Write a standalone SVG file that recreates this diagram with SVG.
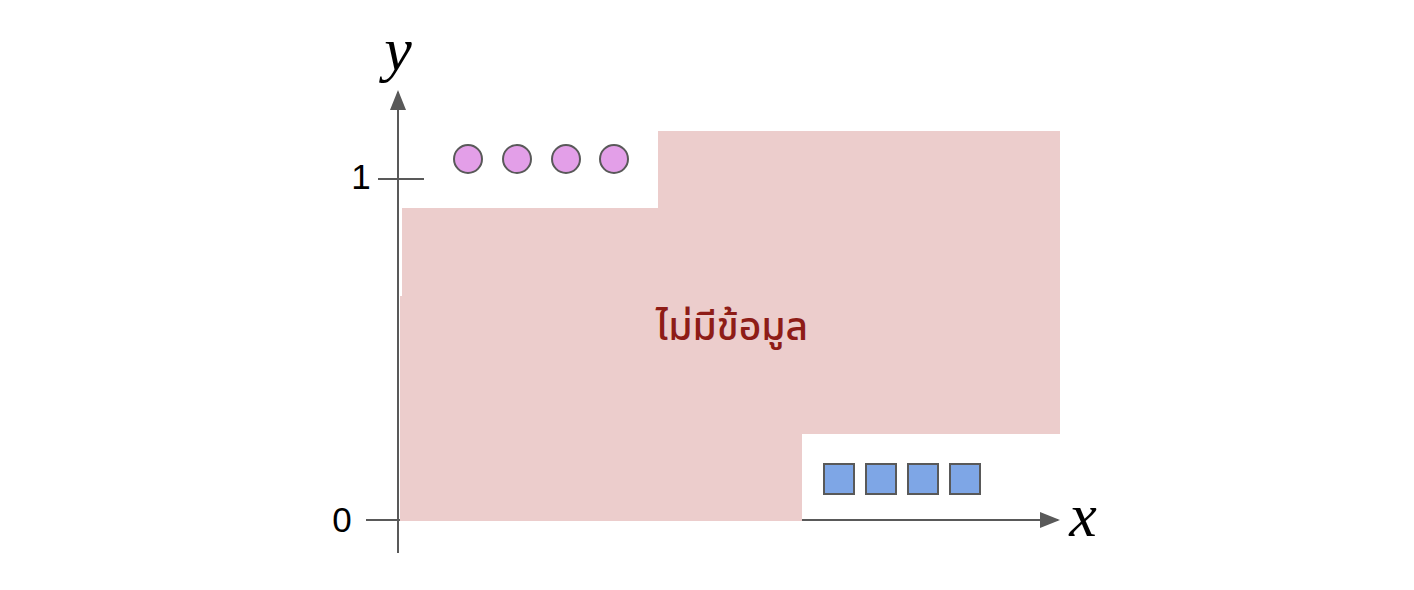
<svg xmlns="http://www.w3.org/2000/svg" width="1414" height="590" viewBox="0 0 1414 590">
<defs>
<style>
.ax{stroke:#595959;stroke-width:2;fill:none}
.dot{fill:#e39fe8;stroke:#595959;stroke-width:2}
.sq{fill:#7ea6e6;stroke:#595959;stroke-width:2}
.num{font-family:"Liberation Sans",Arial,sans-serif;font-size:35px;fill:#000}
.var{font-family:"Liberation Serif","Times New Roman",serif;font-style:italic;font-size:62px;fill:#000}
</style>
<marker id="ahb" viewBox="0 0 10 10" refX="9" refY="5" markerWidth="20" markerHeight="20" markerUnits="userSpaceOnUse" orient="auto">
<path d="M0,1 L10,5 L0,9 z" fill="#595959"/>
</marker>
</defs>
<rect width="1414" height="590" fill="#fff"/>
<g id="connectors">
<line class="ax" x1="398" y1="520" x2="1058" y2="520" marker-end="url(#ahb)"/>
</g>
<g id="region">
<polygon points="402,208 658,208 658,131 1060,131 1060,434 802,434 802,521 400,521 400,296 402,296" fill="#eccdcc"/>
<text x="732" y="340" text-anchor="middle" font-family="'Noto Sans','Noto Sans Thai','DejaVu Sans',sans-serif" font-size="39" font-weight="500" fill="#8e1c17">ไม่มีข้อมูล</text>
</g>
<g id="axes">
<line class="ax" x1="398" y1="553" x2="398" y2="92" marker-end="url(#ahb)"/>
<line class="ax" x1="378" y1="179" x2="424" y2="179"/>
<line class="ax" x1="366" y1="520" x2="398" y2="520"/>
<text class="num" x="361" y="189" text-anchor="middle">1</text>
<text class="num" x="342" y="532" text-anchor="middle">0</text>
<text class="var" x="398" y="70" text-anchor="middle">y</text>
<text class="var" x="1083" y="536" text-anchor="middle">x</text>
</g>
<g id="circles">
<circle class="dot" cx="468" cy="159" r="14"/>
<circle class="dot" cx="517" cy="159" r="14"/>
<circle class="dot" cx="566" cy="159" r="14"/>
<circle class="dot" cx="614" cy="159" r="14"/>
</g>
<g id="squares">
<rect class="sq" x="824" y="464" width="30" height="30"/>
<rect class="sq" x="866" y="464" width="30" height="30"/>
<rect class="sq" x="908" y="464" width="30" height="30"/>
<rect class="sq" x="950" y="464" width="30" height="30"/>
</g>
</svg>
